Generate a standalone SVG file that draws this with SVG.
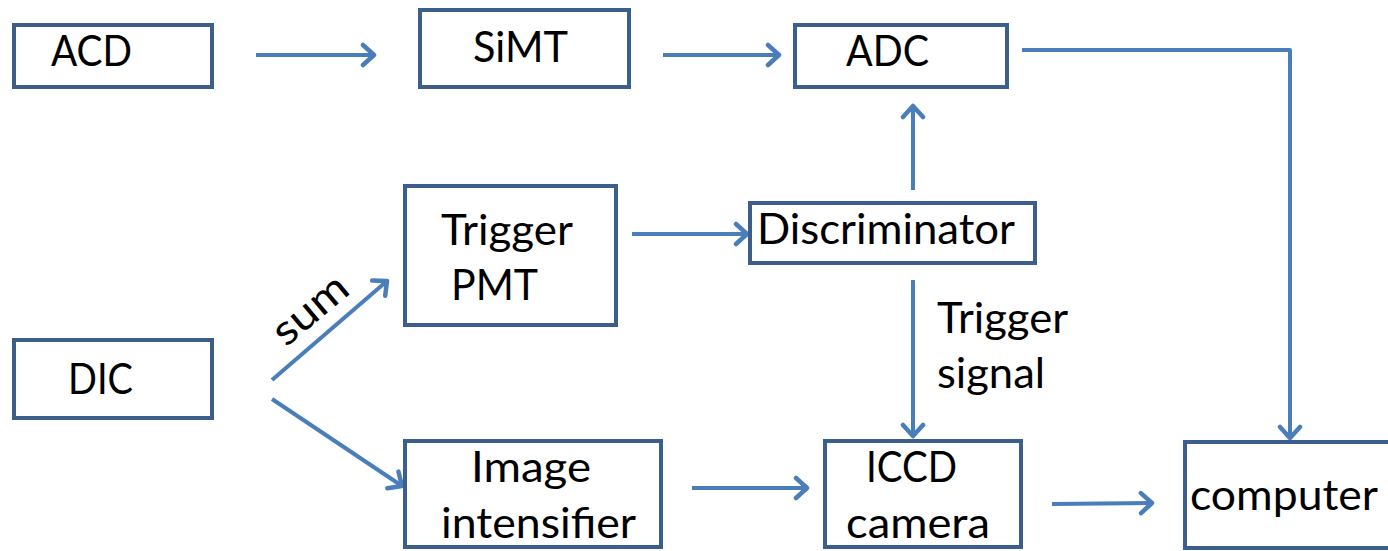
<svg xmlns="http://www.w3.org/2000/svg" width="1388" height="551" viewBox="0 0 1388 551">
<defs>
<style>
.box{fill:#fff;stroke:#3B5E8C;stroke-width:4;}
.t{font-family:Lato,"Open Sans","Liberation Sans",sans-serif;font-size:42px;fill:#000;}
.c{fill:none;stroke:#4A7EBB;stroke-width:4;stroke-linejoin:round;}
</style>
<marker id="ah" viewBox="-16 -13 20 26" markerWidth="20" markerHeight="26" refX="0" refY="0" orient="auto" markerUnits="userSpaceOnUse">
<path d="M-11,-10 L0,0 L-11,10" fill="none" stroke="#4A7EBB" stroke-width="4.5" stroke-linecap="round" stroke-linejoin="round"/>
</marker>
</defs>
<rect width="1388" height="551" fill="#fff"/>
<g id="connectors">
<line class="c" x1="256" y1="55" x2="374" y2="55" marker-end="url(#ah)"/>
<line class="c" x1="663" y1="55" x2="779" y2="55" marker-end="url(#ah)"/>
<polyline class="c" points="1022,50 1290,50 1290,438" marker-end="url(#ah)"/>
<line class="c" x1="913" y1="190" x2="913" y2="106" marker-end="url(#ah)"/>
<line class="c" x1="632" y1="234" x2="747" y2="234" marker-end="url(#ah)"/>
<line class="c" x1="913" y1="280" x2="913" y2="436" marker-end="url(#ah)"/>
<line class="c" x1="272" y1="380" x2="387" y2="281" marker-end="url(#ah)"/>
<line class="c" x1="272" y1="399" x2="402" y2="486" marker-end="url(#ah)"/>
<line class="c" x1="692" y1="488" x2="807" y2="488" marker-end="url(#ah)"/>
<line class="c" x1="1052" y1="504" x2="1152" y2="503" marker-end="url(#ah)"/>
<text class="t" transform="translate(319,320) rotate(-40)" text-anchor="middle" textLength="86" lengthAdjust="spacingAndGlyphs">sum</text>
<text class="t" x="937" y="333" textLength="131" lengthAdjust="spacingAndGlyphs">Trigger</text>
<text class="t" x="937" y="388" textLength="108" lengthAdjust="spacingAndGlyphs">signal</text>
</g>
<g id="ACD"><rect class="box" x="14" y="25" width="198" height="62"/><text class="t" x="51" y="66" textLength="81" lengthAdjust="spacingAndGlyphs">ACD</text></g>
<g id="SiMT"><rect class="box" x="420" y="10" width="209" height="77"/><text class="t" x="473" y="62" textLength="95" lengthAdjust="spacingAndGlyphs">SiMT</text></g>
<g id="ADC"><rect class="box" x="795" y="25" width="212" height="62"/><text class="t" x="846" y="66" textLength="83" lengthAdjust="spacingAndGlyphs">ADC</text></g>
<g id="TriggerPMT"><rect class="box" x="405" y="186" width="211" height="139"/><text class="t" x="441" y="245" textLength="132" lengthAdjust="spacingAndGlyphs">Trigger</text><text class="t" x="451" y="300" textLength="87" lengthAdjust="spacingAndGlyphs">PMT</text></g>
<g id="Discriminator"><rect class="box" x="750" y="203" width="285" height="60"/><text class="t" x="757" y="244" textLength="258" lengthAdjust="spacingAndGlyphs">Discriminator</text></g>
<g id="DIC"><rect class="box" x="14" y="340" width="198" height="78"/><text class="t" x="68" y="394" textLength="65" lengthAdjust="spacingAndGlyphs">DIC</text></g>
<g id="ImageIntensifier"><rect class="box" x="405" y="441" width="256" height="106"/><text class="t" x="471" y="482" textLength="120" lengthAdjust="spacingAndGlyphs">Image</text><text class="t" x="441" y="538" textLength="195" lengthAdjust="spacingAndGlyphs">intensifier</text></g>
<g id="ICCD"><rect class="box" x="825" y="441" width="196" height="106"/><text class="t" x="866" y="482" textLength="91" lengthAdjust="spacingAndGlyphs">ICCD</text><text class="t" x="846" y="538" textLength="144" lengthAdjust="spacingAndGlyphs">camera</text></g>
<g id="computer"><rect class="box" x="1185" y="442" width="215" height="106"/><text class="t" x="1190" y="510" textLength="188" lengthAdjust="spacingAndGlyphs">computer</text></g>
</svg>
